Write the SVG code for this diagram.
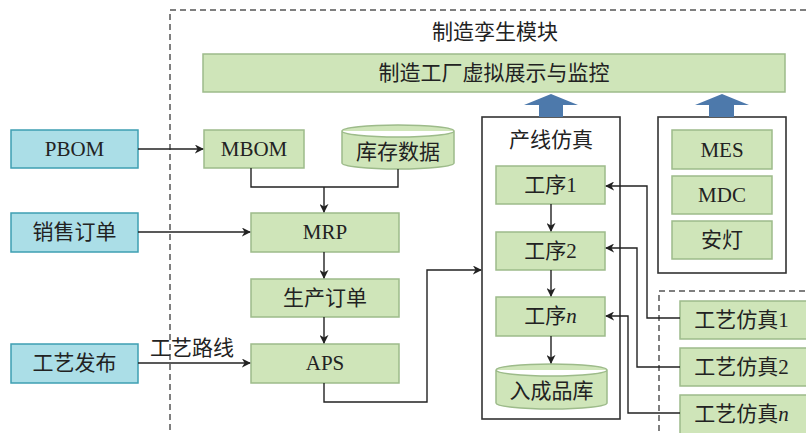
<svg xmlns="http://www.w3.org/2000/svg" width="806" height="433" viewBox="0 0 806 433">
<defs>
<style>
.t{font-family:"Liberation Serif","Noto Sans CJK SC",serif;font-size:21px;fill:#222;text-anchor:middle;dominant-baseline:central}
.g{fill:#cfe5b9;stroke:#9dbb8a;stroke-width:1.5}
.b{fill:#abdee7;stroke:#3e9fb2;stroke-width:1.5}
.c{fill:none;stroke:#333;stroke-width:1.6}
.dash{fill:none;stroke:#555;stroke-width:1.5;stroke-dasharray:6,4}
.ln{fill:none;stroke:#222;stroke-width:1.4}
.ua{fill:#4d79ab}
</style>
<marker id="ah" viewBox="0 0 10 10" refX="9" refY="5" markerWidth="9" markerHeight="9" markerUnits="userSpaceOnUse" orient="auto">
<path d="M0,0 L10,5 L0,10 L3,5 Z" fill="#222"/>
</marker>
</defs>
<rect width="806" height="433" fill="#fff"/>
<rect class="dash" x="170" y="10" width="660" height="440"/>
<text class="t" x="495" y="32">制造孪生模块</text>
<rect class="dash" x="659" y="291" width="170" height="160"/>

<g id="top"><rect class="g" x="203" y="54" width="582" height="38"/><text class="t" x="494" y="73">制造工厂虚拟展示与监控</text></g>

<g id="pbom"><rect class="b" x="11" y="130" width="127" height="38"/><text class="t" x="74.5" y="149">PBOM</text></g>
<g id="sales"><rect class="b" x="11" y="213" width="127" height="39"/><text class="t" x="74.5" y="232">销售订单</text></g>
<g id="release"><rect class="b" x="11" y="344" width="127" height="39"/><text class="t" x="74.5" y="363">工艺发布</text></g>

<g id="mbom"><rect class="g" x="204" y="130" width="100" height="38"/><text class="t" x="254" y="149">MBOM</text></g>
<g id="stock"><path class="g" d="M342,131 A56,6 0 0 1 454,131 V163 A56,6 0 0 1 342,163 Z M342,131 A56,6 0 0 0 454,131"/><text class="t" x="398" y="152">库存数据</text></g>
<g id="mrp"><rect class="g" x="251" y="213" width="148" height="39"/><text class="t" x="325" y="232">MRP</text></g>
<g id="po"><rect class="g" x="251" y="279" width="148" height="38"/><text class="t" x="325" y="298">生产订单</text></g>
<g id="aps"><rect class="g" x="251" y="344" width="148" height="39"/><text class="t" x="325" y="363">APS</text></g>

<g id="line"><rect class="c" x="482" y="117" width="138" height="302"/><text class="t" x="551" y="140">产线仿真</text></g>
<g id="p1"><rect class="g" x="496" y="166" width="109" height="38"/><text class="t" x="550.5" y="185">工序1</text></g>
<g id="p2"><rect class="g" x="496" y="232" width="109" height="38"/><text class="t" x="550.5" y="251">工序2</text></g>
<g id="pn"><rect class="g" x="496" y="297" width="109" height="39"/><text class="t" x="550.5" y="316">工序<tspan font-style="italic">n</tspan></text></g>
<g id="store"><path class="g" d="M496,370 A55.5,6 0 0 1 607,370 V403 A55.5,6 0 0 1 496,403 Z M496,370 A55.5,6 0 0 0 607,370"/><text class="t" x="551.5" y="391">入成品库</text></g>

<g id="mes"><rect class="c" x="658" y="117" width="128" height="156"/></g>
<g id="mesbox"><rect class="g" x="672" y="130" width="100" height="39"/><text class="t" x="722" y="149.5">MES</text></g>
<g id="mdc"><rect class="g" x="672" y="176" width="100" height="38"/><text class="t" x="722" y="195">MDC</text></g>
<g id="andon"><rect class="g" x="672" y="221" width="100" height="38"/><text class="t" x="722" y="240">安灯</text></g>

<g id="s1"><rect class="g" x="680" y="301" width="140" height="38"/><text class="t" x="741.5" y="320">工艺仿真1</text></g>
<g id="s2"><rect class="g" x="680" y="348" width="140" height="38"/><text class="t" x="741.5" y="367">工艺仿真2</text></g>
<g id="sn"><rect class="g" x="680" y="395" width="140" height="40"/><text class="t" x="741.5" y="414">工艺仿真<tspan font-style="italic">n</tspan></text></g>

<g id="connectors">
<path class="ua" d="M539,117 V105 H524 L551,94 L578,105 H563 V117 Z"/>
<path class="ua" d="M709,117 V105 H695 L722,94 L749,105 H734 V117 Z"/>
<path class="ln" d="M138,149 H203" marker-end="url(#ah)"/>
<path class="ln" d="M138,232 H250" marker-end="url(#ah)"/>
<path class="ln" d="M138,363 H250" marker-end="url(#ah)"/>
<text class="t" x="192" y="348">工艺路线</text>
<path class="ln" d="M251,168 V187 H398 V169"/>
<path class="ln" d="M324,187 V212" marker-end="url(#ah)"/>
<path class="ln" d="M324,252 V278" marker-end="url(#ah)"/>
<path class="ln" d="M324,317 V343" marker-end="url(#ah)"/>
<path class="ln" d="M324,383 V402 H427 V270 H481" marker-end="url(#ah)"/>
<path class="ln" d="M551,204 V231" marker-end="url(#ah)"/>
<path class="ln" d="M551,270 V296" marker-end="url(#ah)"/>
<path class="ln" d="M551,336 V363" marker-end="url(#ah)"/>
<path class="ln" d="M680,318 H647 V186 H606" marker-end="url(#ah)"/>
<path class="ln" d="M680,367 H637 V248 H606" marker-end="url(#ah)"/>
<path class="ln" d="M680,413 H628 V316 H606" marker-end="url(#ah)"/>
</g>
</svg>
